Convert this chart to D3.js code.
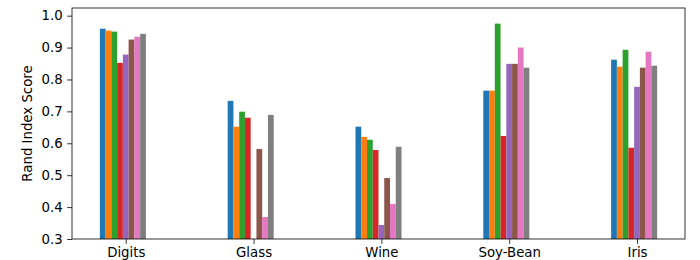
<!DOCTYPE html>
<html>
<head>
<meta charset="utf-8">
<style>
  body { margin: 0; background: #fff; }
  text { font-family: "DejaVu Sans", sans-serif; }
</style>
</head>
<body>
<script src="https://cdn.jsdelivr.net/npm/d3@7"></script>
<script>
    var datasets = ["Digits", "Glass", "Wine", "Soy-Bean", "Iris"];
    // one array per method (8 bars per dataset)
    var method1 = [0.959, 0.733, 0.652, 0.765, 0.862];
    var method2 = [0.953, 0.652, 0.620, 0.765, 0.840];
    var method3 = [0.950, 0.699, 0.611, 0.975, 0.893];
    var method4 = [0.852, 0.680, 0.579, 0.623, 0.586];
    var method5 = [0.878, 0.250, 0.344, 0.849, 0.777];
    var method6 = [0.925, 0.582, 0.491, 0.849, 0.837];
    var method7 = [0.934, 0.369, 0.410, 0.900, 0.887];
    var method8 = [0.943, 0.689, 0.589, 0.837, 0.843];
    var yTicks = [0.3, 0.4, 0.5, 0.6, 0.7, 0.8, 0.9, 1.0];

    var series = [method1, method2, method3, method4, method5, method6, method7, method8];
    var colors = ["#1f77b4", "#ff7f0e", "#2ca02c", "#d62728", "#9467bd", "#8c564b", "#e377c2", "#7f7f7f"];

    var width = 700, height = 260;
    var margins = { left: 72, top: 8, right: 15, bottom: 21 };
    var plotW = width - margins.left - margins.right;
    var plotH = height - margins.top - margins.bottom;
    var fontSize = '13.3px';

    var barW = 0.045;
    var dataMin = -4.5 * barW, dataMax = datasets.length - 1 + 3.5 * barW;
    var pad = 0.05 * (dataMax - dataMin);

    var x = d3.scaleLinear()
        .domain([dataMin - pad, dataMax + pad])
        .range([0, plotW]);
    var y = d3.scaleLinear()
        .domain([0.3, 1.024])
        .range([plotH, 0]);

    var svg = d3.select('body').append('svg')
        .attr('width', width)
        .attr('height', height);

    svg.append('defs').append('clipPath').attr('id', 'clip')
        .append('rect').attr('width', plotW).attr('height', plotH);

    var g = svg.append('g')
        .attr('transform', 'translate(' + margins.left + ',' + margins.top + ')');

    var bars = g.append('g').attr('clip-path', 'url(#clip)');
    series.forEach(function (vals, i) {
        bars.selectAll('rect.s' + i)
            .data(vals)
            .enter()
            .append('rect')
            .attr('class', 's' + i)
            .attr('x', function (d, j) { return x(j + (i - 4) * barW - barW / 2); })
            .attr('width', x(barW) - x(0))
            .attr('y', function (d) { return y(d); })
            .attr('height', function (d) { return Math.max(0, y(0.3) - y(d)); })
            .attr('fill', colors[i]);
    });

    var xAxis = d3.axisBottom(x)
        .tickValues(d3.range(datasets.length))
        .tickFormat(function (d) { return datasets[d]; })
        .tickSize(4.86).tickPadding(3.5).tickSizeOuter(0);
    var xAxisNodes = g.append('g')
        .attr('transform', 'translate(0,' + plotH + ')')
        .call(xAxis);

    var yAxis = d3.axisLeft(y)
        .tickValues(yTicks)
        .tickFormat(d3.format('.1f'))
        .tickSize(4.86).tickPadding(4.5).tickSizeOuter(0);
    var yAxisNodes = g.append('g').call(yAxis);

    [xAxisNodes, yAxisNodes].forEach(function (a) {
        a.selectAll('.domain').remove();
        a.selectAll('.tick line').attr('stroke', '#000').attr('stroke-width', 0.8);
        a.selectAll('.tick text').attr('fill', '#000').style('font-size', fontSize);
    });

    g.append('rect')
        .attr('width', plotW).attr('height', plotH)
        .attr('fill', 'none').attr('stroke', '#000').attr('stroke-width', 0.8);

    svg.append('text')
        .attr('transform', 'translate(32,' + (margins.top + plotH / 2) + ') rotate(-90)')
        .attr('text-anchor', 'middle')
        .style('font-size', fontSize)
        .text('Rand Index Score');
</script>
</body>
</html>
